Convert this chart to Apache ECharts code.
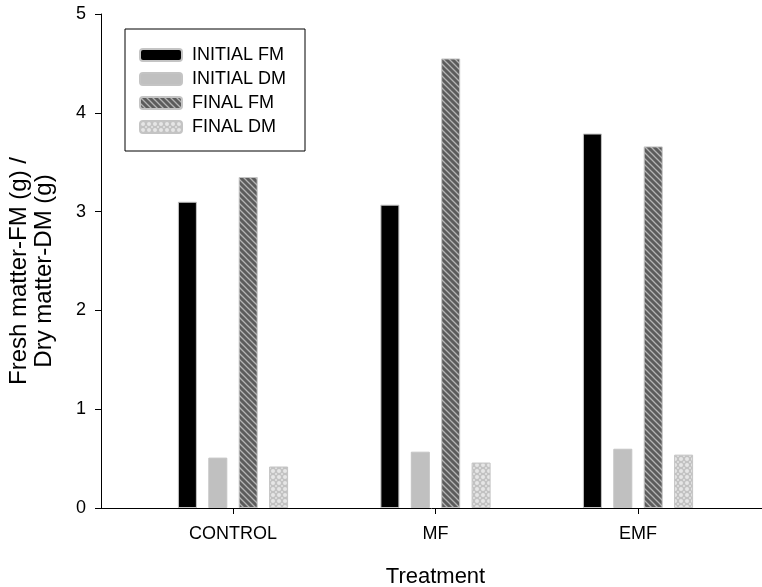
<!DOCTYPE html>
<html>
<head>
<meta charset="utf-8">
<script src="https://cdn.jsdelivr.net/npm/echarts@6/dist/echarts.min.js"></script>
<style>
html,body{margin:0;padding:0;background:#fff;}
#chart{width:762px;height:587px;}
</style>
</head>
<body>
<div id="chart"></div>
<script>
const categories = ['CONTROL', 'MF', 'EMF'];
const seriesNames = ['INITIAL FM', 'INITIAL DM', 'FINAL FM', 'FINAL DM'];
const initialFM = [3.10, 3.07, 3.79];
const initialDM = [0.51, 0.57, 0.60];
const finalFM = [3.35, 4.55, 3.66];
const finalDM = [0.42, 0.46, 0.54];
const yTicks = [0, 1, 2, 3, 4, 5];

const FONT = "'Liberation Sans', Arial, sans-serif";

function hatchPattern() {
  const c = document.createElement('canvas');
  c.width = 6; c.height = 6;
  const g = c.getContext('2d');
  g.fillStyle = '#5c5c5c';
  g.fillRect(0, 0, 6, 6);
  g.strokeStyle = '#b4b4b4';
  g.lineWidth = 1.3;
  g.beginPath();
  g.moveTo(-1, -1); g.lineTo(7, 7);
  g.moveTo(-4, 2); g.lineTo(2, 8);
  g.moveTo(2, -4); g.lineTo(8, 2);
  g.stroke();
  return c;
}
function dotPattern() {
  const c = document.createElement('canvas');
  c.width = 6; c.height = 6;
  const g = c.getContext('2d');
  g.fillStyle = '#c2c2c2';
  g.fillRect(0, 0, 6, 6);
  g.fillStyle = '#e6e6e6';
  g.beginPath(); g.arc(3, 3, 2, 0, Math.PI * 2); g.fill();
  g.beginPath(); g.arc(0, 0, 1, 0, Math.PI * 2); g.fill();
  g.beginPath(); g.arc(6, 0, 1, 0, Math.PI * 2); g.fill();
  g.beginPath(); g.arc(0, 6, 1, 0, Math.PI * 2); g.fill();
  g.beginPath(); g.arc(6, 6, 1, 0, Math.PI * 2); g.fill();
  return c;
}

const fills = [
  '#000000',
  '#c0c0c0',
  { image: hatchPattern(), repeat: 'repeat' },
  { image: dotPattern(), repeat: 'repeat' }
];
const dataSets = [initialFM, initialDM, finalFM, finalDM];

const chart = echarts.init(document.getElementById('chart'), null, { renderer: 'canvas' });

const option = {
  animation: false,
  backgroundColor: '#ffffff',
  textStyle: { fontFamily: FONT, color: '#000' },
  grid: [
    { left: 101, right: 0, top: 14, bottom: 79, containLabel: false, outerBoundsMode: 'none' },
    { left: 131.75, right: 22.75, top: 14, bottom: 79, containLabel: false, outerBoundsMode: 'none' }
  ],
  legend: {
    orient: 'vertical',
    left: 125,
    top: 29,
    data: seriesNames,
    itemWidth: 42,
    itemHeight: 12,
    itemGap: 6,
    padding: [17, 19, 15, 14],
    borderColor: '#000',
    borderWidth: 1,
    borderRadius: 0,
    backgroundColor: '#fff',
    selectedMode: false,
    textStyle: { fontFamily: FONT, fontSize: 18, color: '#000', lineHeight: 18, padding: [0, 0, 0, 5] }
  },
  xAxis: [
    {
      gridIndex: 0, type: 'value', min: 0, max: 1,
      axisLine: { show: true, lineStyle: { color: '#000', width: 1 } },
      axisTick: { show: false }, axisLabel: { show: false }, splitLine: { show: false }
    },
    {
      gridIndex: 1, type: 'category', data: categories,
      name: 'Treatment', nameLocation: 'middle', nameGap: 58,
      nameTextStyle: { fontFamily: FONT, fontSize: 22, color: '#000' },
      axisLine: { show: false },
      axisTick: { show: true, alignWithLabel: true, length: 6, lineStyle: { color: '#000', width: 1 } },
      axisLabel: { fontFamily: FONT, fontSize: 18, color: '#000', margin: 17 },
      splitLine: { show: false }
    }
  ],
  yAxis: [
    {
      gridIndex: 0, type: 'value', min: yTicks[0], max: yTicks[yTicks.length - 1], interval: 1,
      name: 'Fresh matter-FM (g) /\nDry matter-DM (g)', nameLocation: 'middle', nameGap: 44,
      nameTextStyle: { fontFamily: FONT, fontSize: 24, color: '#000', lineHeight: 25, align: 'center', padding: [0, 20, 0, 0] },
      axisLine: { show: true, lineStyle: { color: '#000', width: 1 } },
      axisTick: { show: true, length: 6, lineStyle: { color: '#000', width: 1 } },
      axisLabel: { fontFamily: FONT, fontSize: 18, color: '#000', margin: 15 },
      splitLine: { show: false }
    },
    {
      gridIndex: 1, type: 'value', min: yTicks[0], max: yTicks[yTicks.length - 1], interval: 1,
      show: false, splitLine: { show: false }
    }
  ],
  series: seriesNames.map((name, i) => ({
    name: name,
    type: 'bar',
    xAxisIndex: 1,
    yAxisIndex: 1,
    barWidth: 19,
    barGap: '60%',
    data: dataSets[i],
    itemStyle: { color: fills[i], borderColor: '#c4c4c4', borderWidth: 1 },
    emphasis: { disabled: true }
  }))
};
chart.setOption(option);
</script>
</body>
</html>
